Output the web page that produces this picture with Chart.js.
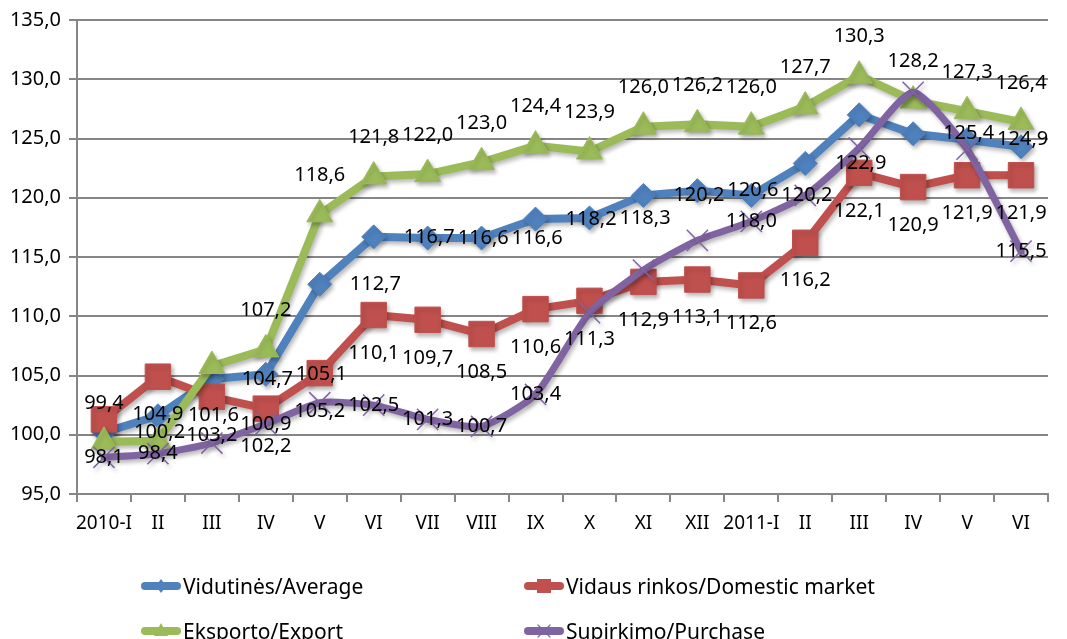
<!DOCTYPE html>
<html>
<head>
<meta charset="utf-8">
<script src="https://cdn.jsdelivr.net/npm/chart.js@4.4.1/dist/chart.umd.min.js"></script>
<style>
  body { margin: 0; background: #fff; }
  #wrap { position: relative; width: 1067px; height: 639px; overflow: hidden; }
  #legend {
    position: absolute; left: 140px; top: 563px;
    display: grid; grid-template-columns: 383px auto; grid-auto-rows: 45px;
    font: 21px 'Noto Sans', sans-serif; color: #000;
  }
  .item { display: flex; align-items: center; white-space: nowrap; }
  .item canvas { margin-right: 1px; }
</style>
</head>
<body>
<div id="wrap">
  <canvas id="chart" width="1067" height="639"></canvas>
  <div id="legend"></div>
</div>
<script>
// Chart data
const categories = ['2010-I', 'II', 'III', 'IV', 'V', 'VI', 'VII', 'VIII', 'IX', 'X', 'XI', 'XII',
  '2011-I', 'II', 'III', 'IV', 'V', 'VI']
const average  = [100.2, 101.6, 104.7, 105.1, 112.7, 116.7, 116.6, 116.6, 118.2, 118.3, 120.2, 120.6,
  120.2, 122.9, 127.0, 125.4, 124.9, 124.3]
const domestic = [101.3, 104.9, 103.2, 102.2, 105.2, 110.1, 109.7, 108.5, 110.6, 111.3, 112.9, 113.1,
  112.6, 116.2, 122.1, 120.9, 121.9, 121.9]
const exports  = [99.4, 99.5, 105.8, 107.2, 118.6, 121.8, 122.0, 123.0, 124.4, 123.9, 126.0, 126.2,
  126.0, 127.7, 130.3, 128.2, 127.3, 126.4]
const purchase = [98.1, 98.4, 99.3, 100.9, 102.7, 102.5, 101.3, 100.7, 103.4, 110.3, 113.9, 116.4,
  118.0, 120.2, 124.2, 128.9, 124.1, 115.5]
const seriesNames = ['Vidutinės/Average', 'Vidaus rinkos/Domestic market', 'Eksporto/Export', 'Supirkimo/Purchase']
const yMin = 95, yMax = 135, yStep = 5

// value labels that are not visible in the original picture
const hiddenLabels = [[14, 17], [0], [1, 2], [2, 4, 9, 10, 11, 13, 14, 15, 16]]

const fmt = v => v.toFixed(1).replace('.', ',')

const colors = ['#4F81BD', '#C0504D', '#9BBB59', '#8064A2']

// shadows under the lines + data labels
const valueLabels = {
  id: 'valueLabels',
  beforeDatasetsDraw(chart) {
    const ctx = chart.ctx
    ctx.save()
    ctx.shadowColor = 'rgba(0,0,0,0.28)'
    ctx.shadowBlur = 4
    ctx.shadowOffsetX = 2
    ctx.shadowOffsetY = 3
  },
  afterDatasetsDraw(chart) {
    const ctx = chart.ctx
    ctx.restore()
    ctx.save()
    ctx.font = '20px "Noto Sans"'
    ctx.fillStyle = '#000'
    chart.data.datasets.forEach((ds, i) => {
      const meta = chart.getDatasetMeta(i)
      meta.data.forEach((pt, j) => {
        if (hiddenLabels[i].includes(j)) return
        let x = pt.x, y = pt.y
        ctx.textAlign = 'center'
        ctx.textBaseline = 'middle'
        if (ds.labelPos === 'right') { ctx.textAlign = 'left'; x += 30 }
        else if (ds.labelPos === 'above') y -= 39
        else if (ds.labelPos === 'below') y += 38
        ctx.fillText(fmt(ds.data[j]), x, y)
      })
    })
    ctx.restore()
  }
}

const ctx = document.getElementById('chart').getContext('2d')

const chart = new Chart(ctx, {
  type: 'line',
  data: {
    labels: categories,
    datasets: [{
      label: seriesNames[0],
      data: average,
      borderColor: colors[0],
      backgroundColor: colors[0],
      borderWidth: 8,
      pointStyle: 'rectRot',
      pointRadius: 12,
      pointBorderWidth: 1,
      labelPos: 'right',
      order: 3
    }, {
      label: seriesNames[1],
      data: domestic,
      borderColor: colors[1],
      backgroundColor: colors[1],
      borderWidth: 8,
      pointStyle: 'rect',
      pointRadius: 18,
      pointBorderWidth: 1,
      labelPos: 'below',
      order: 2
    }, {
      label: seriesNames[2],
      data: exports,
      borderColor: colors[2],
      backgroundColor: colors[2],
      borderWidth: 8,
      pointStyle: 'triangle',
      pointRadius: 15,
      pointBorderWidth: 1,
      labelPos: 'above',
      order: 1
    }, {
      label: seriesNames[3],
      data: purchase,
      borderColor: colors[3],
      backgroundColor: colors[3],
      borderWidth: 7,
      tension: 0.2,
      pointStyle: 'crossRot',
      pointRadius: 15,
      pointBorderWidth: 1.5,
      labelPos: 'center',
      order: 0
    }]
  },
  options: {
    responsive: false,
    animation: false,
    layout: { padding: { left: 0, right: 18, top: 11, bottom: 95 } },
    elements: { line: { borderJoinStyle: 'round', borderCapStyle: 'round' } },
    plugins: {
      legend: { display: false },
      tooltip: { enabled: false }
    },
    scales: {
      x: {
        offset: true,
        grid: { offset: true, drawOnChartArea: false, tickLength: 8, color: '#868686', lineWidth: 2 },
        border: { color: '#868686', width: 2 },
        ticks: { color: '#000', font: { family: 'Noto Sans', size: 19 }, padding: 10, maxRotation: 0, autoSkip: false },
        afterFit: s => { s.height = 50 }
      },
      y: {
        min: yMin,
        max: yMax,
        grid: { color: '#868686', lineWidth: 2, tickLength: 8 },
        border: { color: '#868686', width: 2 },
        ticks: { stepSize: yStep, color: '#000', font: { family: 'Noto Sans', size: 20 }, padding: 8, callback: v => fmt(v) },
        afterFit: s => { s.width = 77 }
      }
    }
  },
  plugins: [valueLabels]
})

// HTML legend, 2 x 2
function drawSwatch(c, ds) {
  const g = c.getContext('2d')
  g.strokeStyle = ds.borderColor
  g.fillStyle = ds.borderColor
  g.lineWidth = 8
  g.lineCap = 'round'
  g.beginPath(); g.moveTo(5, 12); g.lineTo(37, 12); g.stroke()
  const cx = 21, cy = 12
  g.beginPath()
  if (ds.pointStyle === 'rectRot') {
    g.moveTo(cx, cy - 7); g.lineTo(cx + 5, cy); g.lineTo(cx, cy + 7); g.lineTo(cx - 5, cy); g.fill()
  } else if (ds.pointStyle === 'rect') {
    g.fillRect(cx - 7, cy - 7, 14, 14)
  } else if (ds.pointStyle === 'triangle') {
    g.moveTo(cx, cy - 8); g.lineTo(cx + 7, cy + 5); g.lineTo(cx - 7, cy + 5); g.fill()
  } else {
    g.lineWidth = 1.2
    g.moveTo(cx - 6, cy - 6); g.lineTo(cx + 6, cy + 6)
    g.moveTo(cx + 6, cy - 6); g.lineTo(cx - 6, cy + 6); g.stroke()
  }
}

const legendEl = document.getElementById('legend')
chart.data.datasets.forEach(ds => {
  const item = document.createElement('div')
  item.className = 'item'
  const sw = document.createElement('canvas')
  sw.width = 42; sw.height = 24
  drawSwatch(sw, ds)
  item.appendChild(sw)
  item.appendChild(document.createTextNode(ds.label))
  legendEl.appendChild(item)
})
</script>
</body>
</html>
